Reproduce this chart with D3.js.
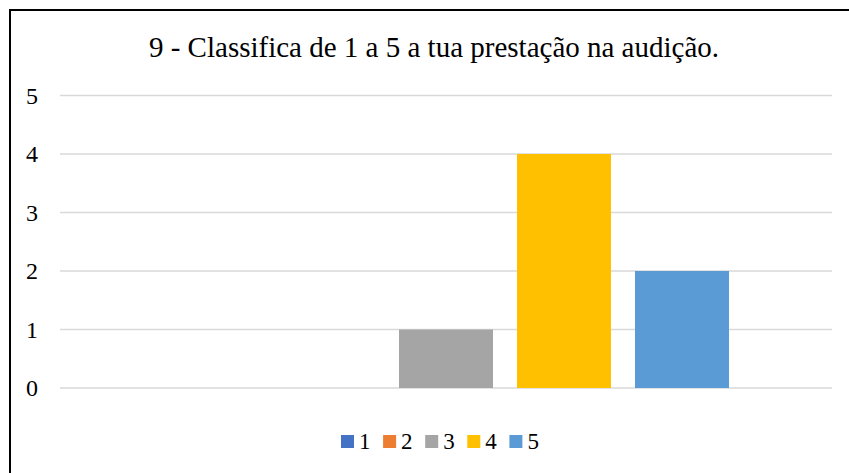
<!DOCTYPE html>
<html>
<head>
<meta charset="utf-8">
<script src="https://cdn.jsdelivr.net/npm/d3@7"></script>
<style>
  html, body { margin: 0; padding: 0; background: #fff; }
  svg { display: block; }
</style>
</head>
<body>
<svg id="chart" width="849" height="473"></svg>
<script>
// Answers to question 9 (rating 1–5) and the count of each answer
const title = "9 - Classifica de 1 a 5 a tua prestação na audição.";
const categories = [""];
const seriesNames = ["1", "2", "3", "4", "5"];
const seriesValues = [0, 0, 1, 4, 2];
const seriesColors = ["#4472C4", "#ED7D31", "#A5A5A5", "#FFC000", "#5B9BD5"];
const yTicks = [0, 1, 2, 3, 4, 5];

const FONT = "'Liberation Serif', 'Times New Roman', serif";

const svg = d3.select("#chart");

// Chart frame (continues past the right and bottom edges)
svg.append("rect")
  .attr("x", 10).attr("y", 10)
  .attr("width", 860).attr("height", 480)
  .attr("fill", "#fff").attr("stroke", "#000").attr("stroke-width", 2);

const plot = { left: 60, right: 832, top: 95.5, bottom: 388 };

const y = d3.scaleLinear().domain([0, 5]).range([plot.bottom, plot.top]);

const x0 = d3.scaleBand().domain(categories)
  .range([plot.left, plot.right]).paddingInner(0).paddingOuter(0.182);
const x1 = d3.scaleBand().domain(seriesNames)
  .range([0, x0.bandwidth()]).paddingInner(0.2034).paddingOuter(0);

// Title
svg.append("text")
  .attr("x", 434).attr("y", 57)
  .attr("text-anchor", "middle")
  .attr("font-family", FONT)
  .attr("font-size", 29)
  .attr("fill", "#000")
  .text(title);

// Horizontal gridlines
svg.append("g").selectAll("line").data(yTicks).join("line")
  .attr("x1", plot.left).attr("x2", plot.right)
  .attr("y1", d => y(d)).attr("y2", d => y(d))
  .attr("stroke", "#d9d9d9").attr("stroke-width", 1.5);

// Y axis labels
const yAxis = d3.axisLeft(y).tickValues(yTicks).tickFormat(d3.format("d"))
  .tickSize(0).tickPadding(0);
const gy = svg.append("g").attr("transform", "translate(38,0)").call(yAxis)
  .attr("font-family", FONT).attr("font-size", 24);
gy.select(".domain").remove();
gy.selectAll("text")
  .attr("fill", "#000")
  .attr("dy", "0.32em");

// Bars
const data = seriesNames.map((s, i) => ({ cat: categories[0], name: s, value: seriesValues[i], color: seriesColors[i] }));
svg.append("g").selectAll("rect").data(data).join("rect")
  .attr("x", d => x0(d.cat) + x1(d.name))
  .attr("width", x1.bandwidth())
  .attr("y", d => y(d.value))
  .attr("height", d => y(0) - y(d.value))
  .attr("fill", d => d.color);

// Legend
const legend = svg.append("g").attr("transform", "translate(341,435)")
  .attr("font-family", FONT).attr("font-size", 23);
const item = legend.selectAll("g").data(data).join("g")
  .attr("transform", (d, i) => `translate(${i * 42.1},0)`);
item.append("rect")
  .attr("width", 13).attr("height", 13)
  .attr("fill", d => d.color);
item.append("text")
  .attr("x", 18).attr("y", 14)
  .attr("fill", "#000")
  .text(d => d.name);
</script>
</body>
</html>
